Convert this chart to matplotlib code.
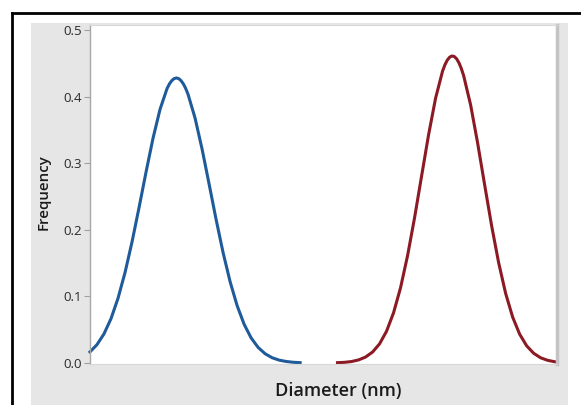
import matplotlib.pyplot as plt
from matplotlib.patches import Rectangle
from matplotlib.lines import Line2D

# particle size distributions
blue_d = [0, 1.5, 3, 4.5, 6, 7.5, 9, 10.5, 12, 13.5, 15, 16.5, 17, 17.5, 18, 18.5,
          19, 19.5, 20, 20.5, 21, 22.5, 24, 25.5, 27, 28.5, 30, 31.5, 33, 34.5, 36,
          37.5, 39, 40.5, 42, 43.5, 45]
blue_f = [0.0167, 0.0276, 0.0438, 0.0666, 0.0972, 0.1358, 0.1818, 0.2333, 0.2867,
          0.3376, 0.3810, 0.4121, 0.4190, 0.4239, 0.4270, 0.4280, 0.4270, 0.4239,
          0.4190, 0.4121, 0.4033, 0.3677, 0.3212, 0.2688, 0.2156, 0.1657, 0.1221,
          0.0862, 0.0582, 0.0377, 0.0234, 0.0139, 0.0079, 0.0043, 0.0023, 0.0011,
          0.0005]

red_d = [53, 54.5, 56, 57.5, 59, 60.5, 62, 63.5, 65, 66.5, 68, 69.5, 71, 72.5, 74,
         75.5, 76, 76.5, 77, 77.5, 78, 78.5, 79, 79.5, 80, 81.5, 83, 84.5, 86, 87.5,
         89, 90.5, 92, 93.5, 95, 96.5, 98, 99.5, 100]
red_f = [0.0005, 0.0010, 0.0022, 0.0046, 0.0089, 0.0164, 0.0287, 0.0477, 0.0754,
         0.1130, 0.1611, 0.2181, 0.2805, 0.3426, 0.3976, 0.4384, 0.4477, 0.4547,
         0.4591, 0.4610, 0.4602, 0.4568, 0.4508, 0.4424, 0.4317, 0.3876, 0.3305,
         0.2678, 0.2061, 0.1507, 0.1046, 0.0690, 0.0433, 0.0258, 0.0146, 0.0078,
         0.0040, 0.0019, 0.0015]

y_ticks = [0.0, 0.1, 0.2, 0.3, 0.4, 0.5]

W, H = 581, 405
fig = plt.figure(figsize=(W / 100, H / 100), dpi=100)
fig.patch.set_facecolor('white')

# gray panel behind the plot
fig.patches.append(Rectangle((31 / W, 0), (568 - 31) / W, 1 - 23 / H,
                             transform=fig.transFigure, facecolor='#e6e6e6',
                             edgecolor='none', zorder=0))
# black frame (left and top edges visible)
fig.lines.append(Line2D([12 / W, 12 / W], [0, 1 - 13 / H], transform=fig.transFigure,
                        color='black', lw=2))
fig.lines.append(Line2D([12 / W, 1], [1 - 13 / H, 1 - 13 / H], transform=fig.transFigure,
                        color='black', lw=2))

ax = fig.add_axes([90 / W, 1 - 364 / H, (557 - 90) / W, (364 - 25) / H])
ax.set_zorder(3)
ax.set_facecolor('white')

ax.plot(blue_d, blue_f, color='#1f5b9a', lw=2.2, solid_joinstyle='round', clip_on=False)
ax.plot(red_d, red_f, color='#8b1a24', lw=2.2, solid_joinstyle='round', clip_on=False)

ax.set_xlim(0, 100)
ax.set_ylim(-0.0015, 0.5075)
ax.set_xticks([])
ax.set_yticks(y_ticks)
ax.set_yticklabels(['%.1f' % t for t in y_ticks])
ax.tick_params(axis='y', direction='out', length=4, width=0.8, color='#a0a0a0',
               labelsize=9.5, labelcolor='#2a2a2a', pad=2)
for lab in ax.get_yticklabels():
    lab.set_family('Open Sans')
    lab.set_fontweight('medium')

for side in ['top', 'bottom']:
    ax.spines[side].set_color('#d8d8d8')
    ax.spines[side].set_linewidth(0.8)
ax.spines['left'].set_color('#a8a8a8')
ax.spines['left'].set_linewidth(1.0)
ax.spines['right'].set_color('#c4c4c4')
ax.spines['right'].set_linewidth(2.5)

fig.text(338 / W, 1 - 391 / H, 'Diameter (nm)', ha='center', va='center',
         fontsize=13, fontweight='semibold', family='Open Sans', color='#1a1a1a')
fig.text(44 / W, 1 - 192 / H, 'Frequency', ha='center', va='center', rotation=90,
         fontsize=10.8, fontweight='semibold', family='Open Sans', color='#1a1a1a')

fig.savefig('out.png', dpi=100)
